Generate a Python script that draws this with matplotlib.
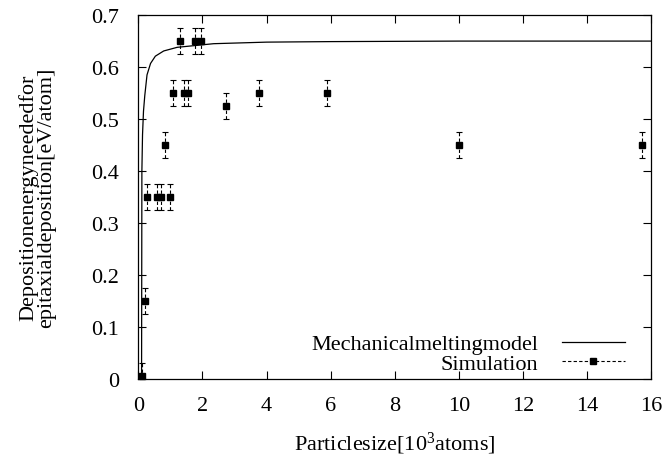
import matplotlib
matplotlib.use("Agg")
import matplotlib.pyplot as plt
from matplotlib.lines import Line2D

plt.rcParams["font.family"] = ["Liberation Serif", "DejaVu Serif"]
plt.rcParams["mathtext.fontset"] = "custom"
plt.rcParams["mathtext.rm"] = "Liberation Serif"
plt.rcParams["mathtext.it"] = "Liberation Serif:italic"
plt.rcParams["font.size"] = 16


# Simulation points (particle size in 10^3 atoms, energy in eV/atom)
sim_x = [0.12, 0.20, 0.27, 0.59, 0.71, 1.00, 0.825, 1.08, 1.42, 1.54,
         1.31, 1.78, 1.94, 2.73, 3.76, 5.88, 10.0, 15.71]
sim_y = [0.005, 0.15, 0.35, 0.35, 0.35, 0.35, 0.45, 0.55, 0.55, 0.55,
         0.65, 0.65, 0.65, 0.525, 0.55, 0.55, 0.45, 0.45]
sim_err = [0.025] * len(sim_x)

# Mechanical melting model
model_x = [0.10, 0.11, 0.13, 0.16, 0.20, 0.27, 0.38, 0.53, 0.79, 1.21,
           2.35, 4.0, 6.0, 10.0, 16.0]
model_y = [0.0, 0.40, 0.47, 0.515, 0.545, 0.585, 0.607, 0.621, 0.631, 0.638,
           0.645, 0.648, 0.649, 0.65, 0.65]

x_ticks = [0, 2, 4, 6, 8, 10, 12, 14, 16]
y_ticks = [0, 0.1, 0.2, 0.3, 0.4, 0.5, 0.6, 0.7]
y_ticklabels = ["0", "0.1", "0.2", "0.3", "0.4", "0.5", "0.6", "0.7"]


fig = plt.figure(figsize=(6.62, 4.56), dpi=100)
ax = fig.add_axes([0.209, 0.1667, 0.775, 0.798])

ax.plot(model_x, model_y, color="black", lw=0.9)

eb = ax.errorbar(
    sim_x, sim_y, yerr=sim_err,
    fmt="s", color="black", ms=5,
    ecolor="black", elinewidth=0.8, capsize=2.5, capthick=0.8,
)
eb[2][0].set_linestyle((0, (3, 2)))
eb[0].set_clip_on(False)

ax.set_xlim(0, 16)
ax.set_ylim(0, 0.7)
ax.set_xticks(x_ticks)
ax.set_yticks(y_ticks)
ax.set_yticklabels(y_ticklabels)

ax.tick_params(direction="in", top=True, right=True, length=6, width=0.8)
ax.tick_params(axis="y", pad=14)
ax.tick_params(axis="x", pad=12)
for s in ax.spines.values():
    s.set_linewidth(0.9)

ax.set_xlabel(r"Particlesize[10$^{3}$atoms]", labelpad=11)
ax.set_ylabel("Depositionenergyneededfor\nepitaxialdeposition[eV/atom]",
              linespacing=0.95, labelpad=25)

handles = [
    Line2D([], [], color="black", lw=0.9),
    Line2D([], [], color="black", lw=0.8, ls=(0, (3, 2)), marker="s", ms=5),
]
ax.legend(handles, ["Mechanicalmeltingmodel", "Simulation"],
          loc="lower right", bbox_to_anchor=(0.965, -0.01),
          frameon=False, markerfirst=False, handlelength=2.8,
          handletextpad=1.1, labelspacing=-0.05, borderaxespad=0.0)

fig.savefig("out.png", dpi=100)
